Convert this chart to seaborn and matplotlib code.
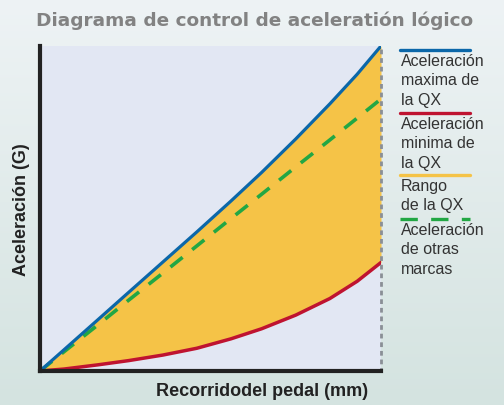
"""Diagrama de control de aceleración lógico"""

import numpy as np
import matplotlib
matplotlib.use("Agg")
import matplotlib.pyplot as plt
import seaborn as sns
from matplotlib.lines import Line2D

# Datos (escala relativa 0-100)
recorrido = [0, 7, 17, 26, 36, 46, 56, 65, 75, 85, 93, 100]
acel_max_qx = [0, 6.5, 15.8, 24.2, 33.5, 42.8, 52.3, 61.1, 71.4, 82.2, 91.3, 100]
acel_min_qx = [0, 0.6, 1.9, 3.2, 4.9, 7.0, 9.9, 13.0, 17.2, 22.3, 27.6, 33.4]
acel_otras = [0, 5.9, 14.2, 21.8, 30.1, 38.5, 46.9, 54.4, 62.8, 71.1, 77.8, 83.7]

titulo = "Diagrama de control de aceleratión lógico"
etiqueta_x = "Recorridodel pedal (mm)"
etiqueta_y = "Aceleración (G)"
leyenda = ["Aceleración\nmaxima de\nla QX", "Aceleración\nminima de\nla QX",
           "Rango\nde la QX", "Aceleración\nde otras\nmarcas"]

AZUL = "#0b67a9"
ROJO = "#bf1330"
AMARILLO = "#f5c347"
VERDE = "#22a744"

sns.set_theme(style="white")
plt.rcParams['font.family'] = ['Liberation Sans', 'DejaVu Sans']

fig = plt.figure(figsize=(5.04, 4.06), dpi=100)

# fondo degradado
bg = fig.add_axes([0, 0, 1, 1], zorder=-1)
grad = np.linspace(0, 1, 256).reshape(-1, 1)
cmap = matplotlib.colors.LinearSegmentedColormap.from_list("bg", ["#eef3f5", "#d4e3e0"])
bg.imshow(grad, aspect="auto", cmap=cmap, extent=[0, 1, 0, 1])
bg.axis("off")

ax = fig.add_axes([40 / 504, 34 / 406, 341 / 504, 325 / 406])
ax.set_facecolor("#e2e7f3")

ax.fill_between(recorrido, acel_min_qx, acel_max_qx, color=AMARILLO, lw=0)
sns.lineplot(x=recorrido, y=acel_min_qx, color=ROJO, lw=2.5, ax=ax)
sns.lineplot(x=recorrido, y=acel_otras, color=VERDE, lw=2.6, ax=ax)
ax.lines[-1].set_dashes((4.3, 3.4))
sns.lineplot(x=recorrido, y=acel_max_qx, color=AZUL, lw=2.3, ax=ax)

ax.set_xlim(0, 100)
ax.set_ylim(0, 100)
ax.set_xticks([])
ax.set_yticks([])

for s in ["left", "bottom"]:
    ax.spines[s].set_color("#222222")
    ax.spines[s].set_linewidth(3)
ax.spines["top"].set_visible(False)
ax.spines["right"].set_color("#8a8f96")
ax.spines["right"].set_linewidth(2)
ax.spines["right"].set_linestyle((0, (0.7, 2.4)))

ax.set_xlabel(etiqueta_x, fontsize=13, fontweight="bold", color="#222222")
ax.xaxis.set_label_coords(0.651, -0.035)
ax.set_ylabel(etiqueta_y, fontsize=13, fontweight="bold", color="#222222")
ax.yaxis.set_label_coords(-0.03, 0.5)

fig.text(255 / 504, 1 - 21 / 406, titulo, ha="center", va="center",
         fontsize=13.3, fontweight="bold", color="#828282",
         family=["DejaVu Sans"])

# leyenda manual: línea arriba, texto debajo
colores = [AZUL, ROJO, AMARILLO, VERDE]
y_lineas = [51, 114, 176, 220]
for col, yl, txt, i in zip(colores, y_lineas, leyenda, range(4)):
    yf = 1 - yl / 406
    ln = Line2D([400 / 504, 470 / 504], [yf, yf], transform=fig.transFigure,
                color=col, lw=2.4)
    if i == 3:
        ln.set_dashes((5.2, 4.0))
    fig.add_artist(ln)
    fig.text(401 / 504, yf - 3 / 406, txt, ha="left", va="top",
             fontsize=11.5, color="#333333", linespacing=1.36)

plt.savefig("out.png", dpi=100)
plt.close()
